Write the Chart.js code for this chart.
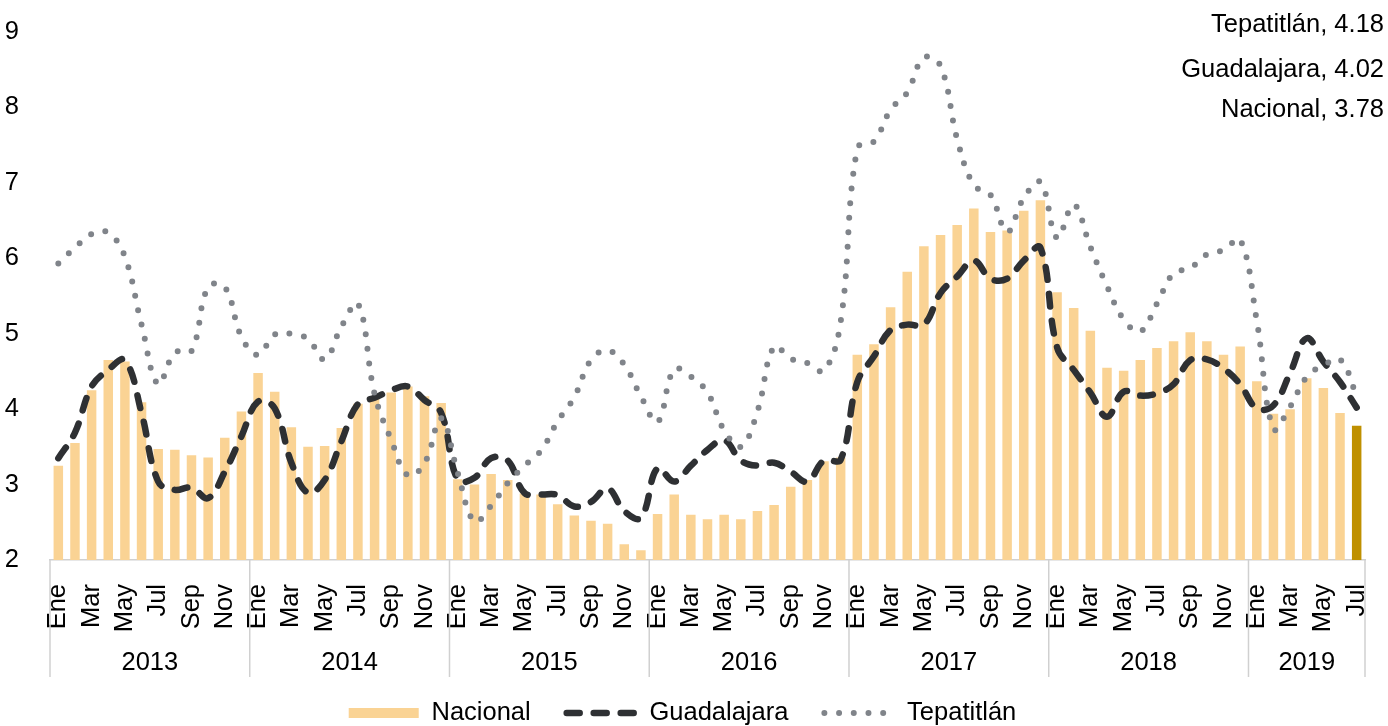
<!DOCTYPE html>
<html lang="es">
<head>
    <meta charset="UTF-8">
    <title>Inflación anual: Nacional, Guadalajara y Tepatitlán</title>
    <script src="https://cdn.jsdelivr.net/npm/chart.js"></script>
    <style>
        body { margin: 0; background: #fff; }
        .wrap { width: 1388px; height: 726px; position: relative; }
    </style>
</head>
<body>
    <div class="wrap"><canvas id="inflChart"></canvas></div>

    <script>
        // categories: years and how many months each one has in the series
        const years = ['2013', '2014', '2015', '2016', '2017', '2018', '2019'];
        const monthsPerYear = [12, 12, 12, 12, 12, 12, 7];
        const monthNames = ['Ene', 'Feb', 'Mar', 'Abr', 'May', 'Jun', 'Jul', 'Ago', 'Sep', 'Oct', 'Nov', 'Dic'];

        // annual inflation, %
        const nacional = [
            3.25, 3.55, 4.25, 4.65, 4.63, 4.09, 3.47, 3.46, 3.39, 3.36, 3.62, 3.97,
            4.48, 4.23, 3.76, 3.50, 3.51, 3.75, 4.07, 4.15, 4.22, 4.30, 4.17, 4.08,
            3.07, 3.00, 3.14, 3.06, 2.88, 2.87, 2.74, 2.59, 2.52, 2.48, 2.21, 2.13,
            2.61, 2.87, 2.60, 2.54, 2.60, 2.54, 2.65, 2.73, 2.97, 3.06, 3.31, 3.36,
            4.72, 4.86, 5.35, 5.82, 6.16, 6.31, 6.44, 6.66, 6.35, 6.37, 6.63, 6.77,
            5.55, 5.34, 5.04, 4.55, 4.51, 4.65, 4.81, 4.90, 5.02, 4.90, 4.72, 4.83,
            4.37, 3.94, 4.00, 4.41, 4.28, 3.95, 3.78
        ];
        const guadalajara = [
            3.35, 3.69, 4.30, 4.52, 4.65, 3.95, 3.04, 2.93, 2.96, 2.82, 3.17, 3.64,
            4.10, 4.01, 3.29, 2.89, 3.06, 3.57, 4.07, 4.15, 4.25, 4.30, 4.12, 3.95,
            3.06, 3.09, 3.35, 3.32, 2.89, 2.87, 2.86, 2.71, 2.77, 2.95, 2.65, 2.56,
            3.22, 3.04, 3.25, 3.46, 3.59, 3.32, 3.25, 3.29, 3.17, 3.04, 3.32, 3.33,
            4.36, 4.70, 5.05, 5.12, 5.12, 5.54, 5.76, 5.97, 5.73, 5.73, 5.97, 6.14,
            4.82, 4.52, 4.22, 3.90, 4.23, 4.18, 4.21, 4.33, 4.65, 4.66, 4.54, 4.33,
            4.01, 4.05, 4.48, 4.94, 4.63, 4.36, 4.02
        ];
        const tepatitlan = [
            5.93, 6.14, 6.32, 6.34, 6.02, 5.12, 4.33, 4.75, 4.77, 5.62, 5.62, 4.96,
            4.72, 4.99, 5.00, 4.93, 4.66, 5.09, 5.40, 4.20, 3.59, 3.12, 3.28, 3.88,
            3.15, 2.51, 2.72, 3.02, 3.25, 3.45, 3.84, 4.16, 4.65, 4.78, 4.59, 4.17,
            3.83, 4.53, 4.43, 4.22, 3.72, 3.50, 3.97, 4.83, 4.67, 4.61, 4.51, 5.16,
            7.46, 7.55, 7.97, 8.20, 8.66, 8.55, 7.58, 6.97, 6.84, 6.35, 6.80, 7.01,
            6.27, 6.71, 6.15, 5.63, 5.19, 5.03, 5.40, 5.80, 5.87, 6.05, 6.11, 6.25,
            5.17, 3.74, 4.03, 4.43, 4.58, 4.66, 4.18
        ];

        const FONT = "'Liberation Sans', Arial, sans-serif";
        const FONT_SIZE = 25.5;
        const LIGHT = '#FAD394';
        const DARK = '#BF9000';

        // one month label per bar, built from the arrays above
        const categories = [];
        years.forEach((yr, k) => {
            for (let m = 0; m < monthsPerYear[k]; m++) categories.push(monthNames[m]);
        });

        // year row under the month labels, with the group separators
        const yearRow = {
            id: 'yearRow',
            afterDraw(chart) {
                const { ctx, chartArea, scales: { x } } = chart;
                const step = x.width / categories.length;
                const edges = [];
                let start = 0;
                ctx.save();
                ctx.font = FONT_SIZE + 'px ' + FONT;
                ctx.fillStyle = '#000';
                ctx.textAlign = 'center';
                ctx.textBaseline = 'alphabetic';
                years.forEach((yr, k) => {
                    const end = start + monthsPerYear[k] - 1;
                    const left = x.getPixelForValue(start) - step / 2;
                    const right = x.getPixelForValue(end) + step / 2;
                    ctx.fillText(yr, (left + right) / 2, 670);
                    edges.push(left);
                    if (k === years.length - 1) edges.push(right);
                    start = end + 1;
                });
                ctx.strokeStyle = '#D0D0D0';
                ctx.lineWidth = 1.5;
                edges.forEach(e => {
                    ctx.beginPath();
                    ctx.moveTo(e, chartArea.bottom);
                    ctx.lineTo(e, 677);
                    ctx.stroke();
                });
                ctx.restore();
            }
        };

        // latest value of each series, top right
        const lastValues = {
            id: 'lastValues',
            afterDraw(chart) {
                const { ctx } = chart;
                const rows = [[2, 32], [1, 77], [0, 117]];
                ctx.save();
                ctx.font = FONT_SIZE + 'px ' + FONT;
                ctx.fillStyle = '#000';
                ctx.textAlign = 'right';
                ctx.textBaseline = 'alphabetic';
                rows.forEach(([i, y]) => {
                    const ds = chart.data.datasets[i];
                    const v = ds.data[ds.data.length - 1];
                    ctx.fillText(ds.label + ', ' + v.toFixed(2), 1384, y);
                });
                ctx.restore();
            }
        };

        const ctx = document.getElementById('inflChart').getContext('2d');
        new Chart(ctx, {
            type: 'bar',
            data: {
                labels: categories,
                datasets: [
                    {
                        type: 'bar',
                        label: 'Nacional',
                        data: nacional,
                        backgroundColor: c => c.dataIndex === nacional.length - 1 ? DARK : LIGHT,
                        barPercentage: 0.57,
                        categoryPercentage: 1.0,
                        order: 3
                    },
                    {
                        type: 'line',
                        label: 'Guadalajara',
                        data: guadalajara,
                        borderColor: '#2E3033',
                        borderWidth: 6.5,
                        borderDash: [13, 14],
                        borderCapStyle: 'round',
                        pointRadius: 0,
                        tension: 0.4,
                        fill: false,
                        order: 2
                    },
                    {
                        type: 'line',
                        label: 'Tepatitlán',
                        data: tepatitlan,
                        borderColor: '#80848A',
                        borderWidth: 6,
                        borderDash: [0, 14.7],
                        borderCapStyle: 'round',
                        pointRadius: 0,
                        tension: 0.4,
                        fill: false,
                        order: 1
                    }
                ]
            },
            options: {
                responsive: true,
                maintainAspectRatio: false,
                animation: false,
                devicePixelRatio: 1,
                layout: { padding: { top: 32, right: 23, bottom: -9.75, left: 0 } },
                plugins: {
                    title: { display: false },
                    tooltip: { enabled: false },
                    legend: {
                        position: 'bottom',
                        labels: {
                            usePointStyle: true,
                            pointStyleWidth: 70,
                            boxHeight: 10,
                            padding: 36,
                            color: '#000',
                            font: { family: FONT, size: FONT_SIZE },
                            generateLabels(chart) {
                                return chart.data.datasets.map((ds, i) => ({
                                    text: ds.label,
                                    datasetIndex: i,
                                    fillStyle: ds.type === 'bar' ? LIGHT : 'rgba(0,0,0,0)',
                                    strokeStyle: ds.borderColor || LIGHT,
                                    lineWidth: ds.type === 'bar' ? 0 : ds.borderWidth,
                                    lineDash: ds.borderDash || [],
                                    lineCap: ds.borderCapStyle || 'butt',
                                    pointStyle: ds.type === 'bar' ? 'rect' : 'line',
                                    hidden: false
                                }));
                            }
                        }
                    }
                },
                scales: {
                    x: {
                        grid: { display: false },
                        border: { display: true, color: '#D0D0D0', width: 1.5 },
                        ticks: {
                            autoSkip: false,
                            minRotation: 90,
                            maxRotation: 90,
                            padding: 16,
                            color: '#000',
                            font: { family: FONT, size: FONT_SIZE },
                            callback: function (val, i) {
                                return i % 2 === 0 ? this.getLabelForValue(val) : '';
                            }
                        },
                        afterFit(s) {
                            s.height = 104.25;
                            s.paddingLeft = 0;
                            s.paddingRight = 0;
                        }
                    },
                    y: {
                        min: 2,
                        max: 9,
                        grid: { display: false },
                        border: { display: false },
                        ticks: {
                            stepSize: 1,
                            padding: 23,
                            color: '#000',
                            font: { family: FONT, size: FONT_SIZE }
                        },
                        afterFit(s) {
                            s.width = 50;
                            s.paddingTop = 0;
                            s.paddingBottom = 0;
                        }
                    }
                }
            },
            plugins: [yearRow, lastValues]
        });
    </script>
</body>
</html>
